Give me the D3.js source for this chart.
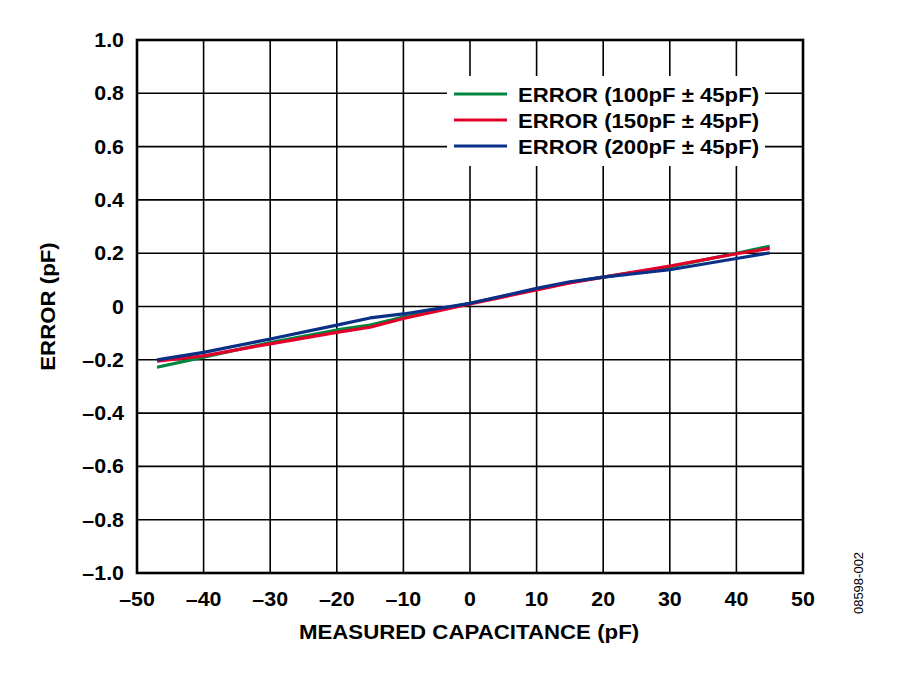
<!DOCTYPE html>
<html>
<head>
<meta charset="utf-8">
<script src="https://d3js.org/d3.v7.min.js"></script>
<style>
  body { margin: 0; background: #fff; }
  text { font-family: "Liberation Sans", Arial, sans-serif; }
</style>
</head>
<body>
<script>
var width = 900;
var height = 681;

// measured capacitance (pF)
var xValues = [-47, -40, -30, -20, -15, -10, 0, 10, 15, 20, 30, 40, 45];
// error (pF) per series
var err100 = [-0.228, -0.19, -0.135, -0.088, -0.07, -0.04, 0.012, 0.065, 0.09, 0.11, 0.148, 0.2, 0.226];
var err150 = [-0.205, -0.185, -0.14, -0.097, -0.078, -0.045, 0.01, 0.062, 0.088, 0.11, 0.152, 0.198, 0.218];
var err200 = [-0.2, -0.172, -0.122, -0.07, -0.043, -0.028, 0.012, 0.068, 0.093, 0.11, 0.138, 0.18, 0.201];

var seriesNames = ["ERROR (100pF ± 45pF)", "ERROR (150pF ± 45pF)", "ERROR (200pF ± 45pF)"];
var seriesColors = ["#00853f", "#e2002a", "#0a2f87"];
var xTicks = [-50, -40, -30, -20, -10, 0, 10, 20, 30, 40, 50];
var yTicks = [-1.0, -0.8, -0.6, -0.4, -0.2, 0, 0.2, 0.4, 0.6, 0.8, 1.0];

var margin = {left: 137, right: 97, top: 40, bottom: 108};

var svg = d3.select("body").append("svg")
  .attr("width", width)
  .attr("height", height);

var x = d3.scaleLinear().domain([-50, 50]).range([margin.left, width - margin.right]);
var y = d3.scaleLinear().domain([-1, 1]).range([height - margin.bottom, margin.top]);

// the original type is a bit wider than Liberation Sans, so stretch it a little
function wideText(sel, px, py, sx, rot) {
  return sel.append("text")
    .attr("transform", "translate(" + px + "," + py + ")" + (rot ? " rotate(" + rot + ")" : "") + " scale(" + sx + ",1)");
}

// grid
svg.append("g").selectAll("line.v")
  .data(xTicks)
  .enter().append("line")
  .attr("x1", d => x(d)).attr("x2", d => x(d))
  .attr("y1", y(-1)).attr("y2", y(1))
  .attr("stroke", "#000").attr("stroke-width", 1.6);

svg.append("g").selectAll("line.h")
  .data(yTicks)
  .enter().append("line")
  .attr("x1", x(-50)).attr("x2", x(50))
  .attr("y1", d => y(d)).attr("y2", d => y(d))
  .attr("stroke", "#000").attr("stroke-width", 1.6);

// legend box hides grid
svg.append("rect")
  .attr("x", 447).attr("y", 76)
  .attr("width", 318).attr("height", 90)
  .attr("fill", "#fff");

// frame
svg.append("rect")
  .attr("x", x(-50)).attr("y", y(1))
  .attr("width", x(50) - x(-50)).attr("height", y(-1) - y(1))
  .attr("fill", "none").attr("stroke", "#000").attr("stroke-width", 2.6);

// tick labels
var fmtY = function(d){
  if (d === 0) return "0";
  return (d < 0 ? "\u2013" : "") + d3.format(".1f")(Math.abs(d));
};
var fmtX = function(d){
  return (d < 0 ? "\u2013" : "") + Math.abs(d);
};

var yLab = svg.append("g");
yTicks.forEach(function(d){
  wideText(yLab, x(-50) - 13, y(d) + 7, 1.07)
    .attr("text-anchor", "end")
    .attr("font-size", 20)
    .attr("font-weight", "bold")
    .text(fmtY(d));
});

var xLab = svg.append("g");
xTicks.forEach(function(d){
  wideText(xLab, x(d), y(-1) + 33, 1.07)
    .attr("text-anchor", "middle")
    .attr("font-size", 20)
    .attr("font-weight", "bold")
    .text(fmtX(d));
});

// axis titles
wideText(svg, 469, 639, 1.06)
  .attr("text-anchor", "middle")
  .attr("font-size", 21)
  .attr("font-weight", "bold")
  .text("MEASURED CAPACITANCE (pF)");

svg.append("text")
  .attr("transform", "translate(55," + y(0) + ") rotate(-90) scale(1.06,1)")
  .attr("text-anchor", "middle")
  .attr("font-size", 21)
  .attr("font-weight", "bold")
  .text("ERROR (pF)");

// watermark
svg.append("text")
  .attr("transform", "translate(863,583) rotate(-90)")
  .attr("text-anchor", "middle")
  .attr("font-size", 13)
  .text("08598-002");

// lines
var series = [err100, err150, err200];
var line = d3.line()
  .x((d, i) => x(xValues[i]))
  .y(d => y(d));

svg.append("g").selectAll("path")
  .data(series)
  .enter().append("path")
  .attr("d", d => line(d))
  .attr("fill", "none")
  .attr("stroke", (d, i) => seriesColors[i])
  .attr("stroke-width", 3.2)
  .attr("stroke-linejoin", "round");

// legend
var leg = svg.append("g").selectAll("g")
  .data(seriesNames)
  .enter().append("g")
  .attr("transform", (d, i) => "translate(0," + (94 + i * 26) + ")");

leg.append("line")
  .attr("x1", 454).attr("x2", 507)
  .attr("y1", 0).attr("y2", 0)
  .attr("stroke", (d, i) => seriesColors[i])
  .attr("stroke-width", 3.2);

leg.append("text")
  .attr("transform", "translate(518,7.5) scale(1.055,1)")
  .attr("font-size", 21)
  .attr("font-weight", "bold")
  .text(d => d);
</script>
</body>
</html>
